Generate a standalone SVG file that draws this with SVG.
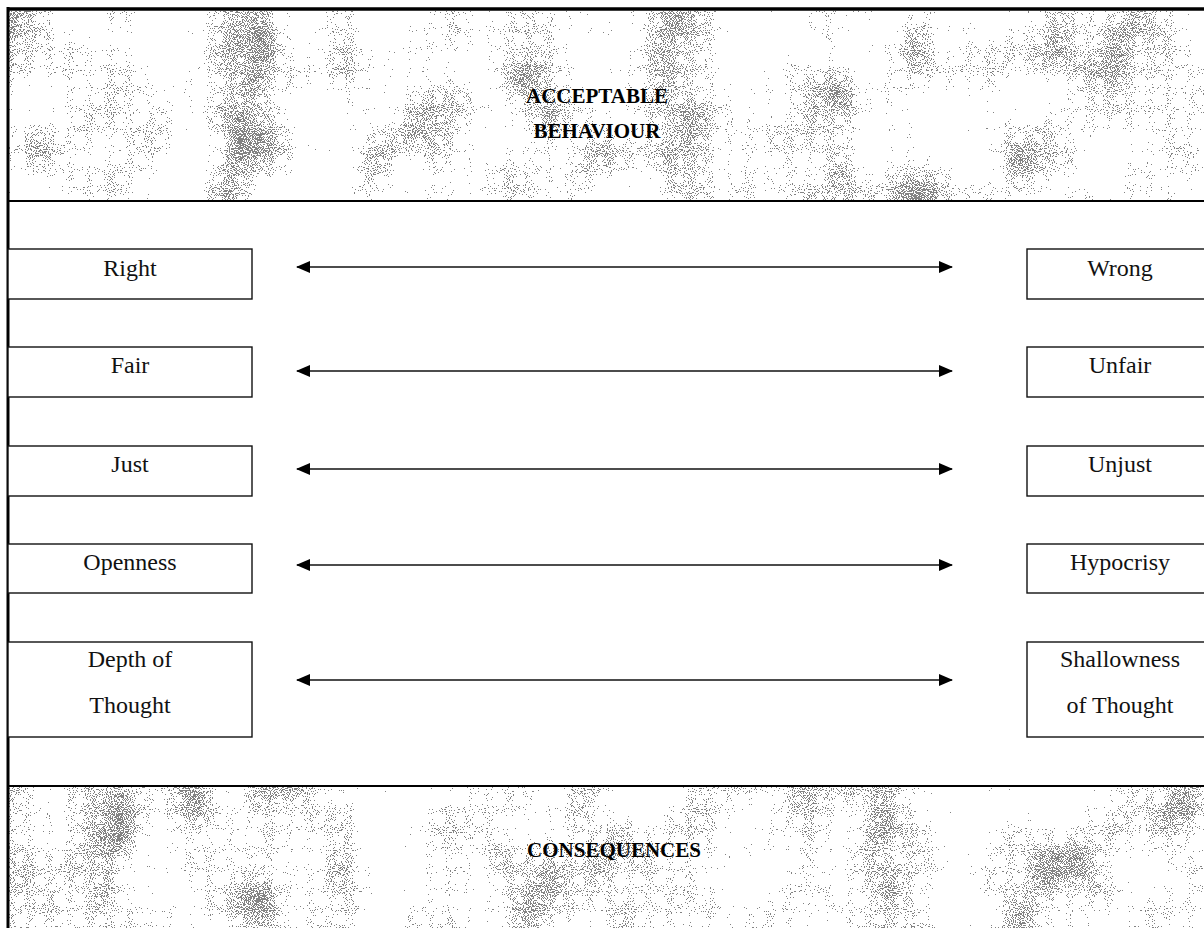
<svg xmlns="http://www.w3.org/2000/svg" width="1204" height="928" viewBox="0 0 1204 928">
<style>
.box{fill:#fff;stroke:#111;stroke-width:1.4}
.lbl{font-family:"Liberation Serif","Times New Roman",serif;font-size:24px;fill:#111;text-anchor:middle}
.hdr{font-family:"Liberation Serif","Times New Roman",serif;font-size:21px;font-weight:bold;fill:#000;text-anchor:middle}
.arr{stroke:#111;stroke-width:1.5;fill:none;marker-start:url(#ah);marker-end:url(#ah)}
</style>
<defs>
<marker id="ah" viewBox="0 0 14 12" refX="13" refY="6" markerWidth="14" markerHeight="12" markerUnits="userSpaceOnUse" orient="auto-start-reverse">
<path d="M0,0 L14,6 L0,12 Z" fill="#000"/>
</marker>
<filter id="stip" x="0" y="0" width="100%" height="100%" color-interpolation-filters="sRGB">
<feTurbulence type="fractalNoise" baseFrequency="0.95" numOctaves="1" seed="7" result="f0"/>
<feColorMatrix in="f0" type="matrix" values="1 0 0 0 0  0 1 0 0 0  0 0 1 0 0  0 0 0 0 1" result="fine"/>
<feTurbulence type="fractalNoise" baseFrequency="0.014 0.012" numOctaves="2" seed="4" result="c0"/>
<feColorMatrix in="c0" type="matrix" values="1 0 0 0 0  0 1 0 0 0  0 0 1 0 0  0 0 0 0 1" result="coarse"/>
<feComposite in="fine" in2="coarse" operator="arithmetic" k1="0" k2="3.2" k3="2.2" k4="-2.35" result="sum"/>
<feColorMatrix in="sum" type="matrix" values="0 0 0 0 0.35  0 0 0 0 0.35  0 0 0 0 0.35  1 0 0 0 0" result="a"/>
<feComponentTransfer in="a"><feFuncA type="discrete" tableValues="0 0 0 0 0 0 0 0 0 0.75"/></feComponentTransfer>
</filter>
</defs>
<rect x="0" y="0" width="1204" height="928" fill="#fff"/>

<g id="header">
<rect x="9" y="11" width="1200" height="189" fill="#fff" filter="url(#stip)"/>
<text class="hdr" x="597" y="103">ACCEPTABLE</text>
<text class="hdr" x="597" y="138">BEHAVIOUR</text>
</g>

<g id="footer">
<rect x="9" y="787" width="1200" height="141" fill="#fff" filter="url(#stip)"/>
<text class="hdr" x="614" y="857">CONSEQUENCES</text>
</g>

<g id="frame" fill="none" stroke="#000">
<line x1="8" y1="9" x2="1204" y2="9" stroke-width="3.5"/>
<line x1="8" y1="7" x2="8" y2="928" stroke-width="3"/>
<line x1="8" y1="201" x2="1204" y2="201" stroke-width="2"/>
<line x1="8" y1="786" x2="1204" y2="786" stroke-width="1.8"/>
</g>

<g id="left-right"><rect class="box" x="8" y="249" width="244" height="50"/><text class="lbl" x="130" y="276">Right</text></g>
<g id="left-fair"><rect class="box" x="8" y="347" width="244" height="50"/><text class="lbl" x="130" y="373">Fair</text></g>
<g id="left-just"><rect class="box" x="8" y="446" width="244" height="50"/><text class="lbl" x="130" y="472">Just</text></g>
<g id="left-openness"><rect class="box" x="8" y="544" width="244" height="49"/><text class="lbl" x="130" y="570">Openness</text></g>
<g id="left-depth"><rect class="box" x="8" y="642" width="244" height="95"/><text class="lbl" x="130" y="667">Depth of</text><text class="lbl" x="130" y="713">Thought</text></g>

<g id="right-wrong"><rect class="box" x="1027" y="249" width="200" height="50"/><text class="lbl" x="1120" y="276">Wrong</text></g>
<g id="right-unfair"><rect class="box" x="1027" y="347" width="200" height="50"/><text class="lbl" x="1120" y="373">Unfair</text></g>
<g id="right-unjust"><rect class="box" x="1027" y="446" width="200" height="50"/><text class="lbl" x="1120" y="472">Unjust</text></g>
<g id="right-hypocrisy"><rect class="box" x="1027" y="544" width="200" height="49"/><text class="lbl" x="1120" y="570">Hypocrisy</text></g>
<g id="right-shallowness"><rect class="box" x="1027" y="642" width="200" height="95"/><text class="lbl" x="1120" y="667">Shallowness</text><text class="lbl" x="1120" y="713">of Thought</text></g>

<g id="connectors">
<line class="arr" x1="297" y1="267" x2="952" y2="267"/>
<line class="arr" x1="297" y1="371" x2="952" y2="371"/>
<line class="arr" x1="297" y1="469" x2="952" y2="469"/>
<line class="arr" x1="297" y1="565" x2="952" y2="565"/>
<line class="arr" x1="297" y1="680" x2="952" y2="680"/>
</g>
</svg>
